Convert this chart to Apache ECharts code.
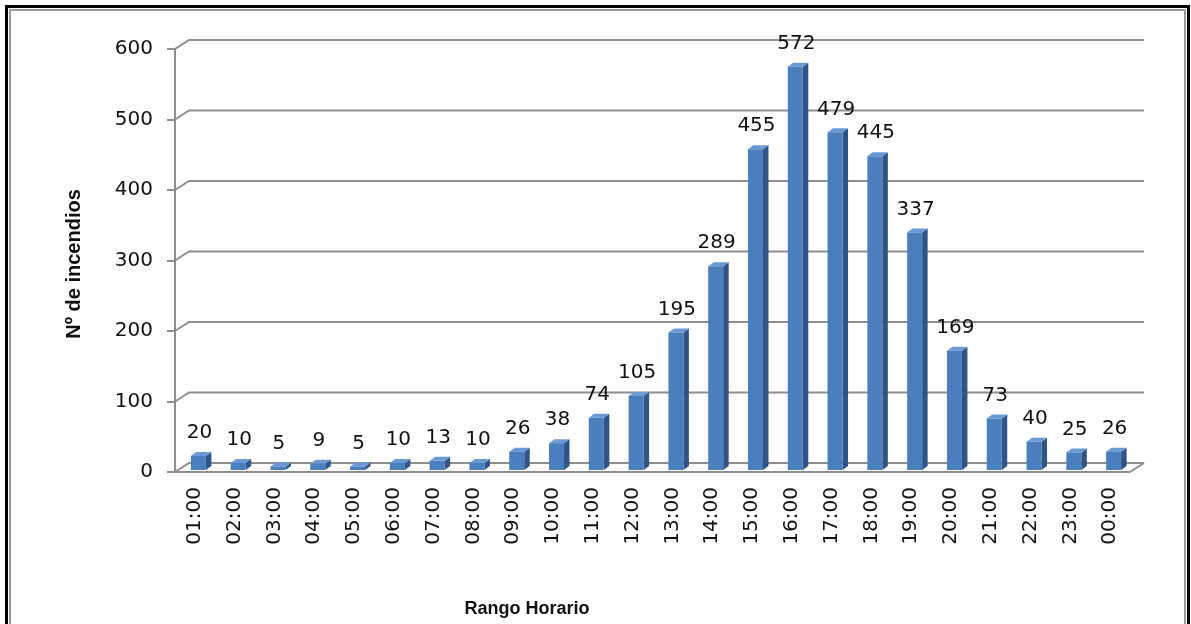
<!DOCTYPE html>
<html>
<head>
<meta charset="utf-8">
<script src="https://cdn.jsdelivr.net/npm/echarts@6/dist/echarts.min.js"></script>
<style>
  html, body { margin: 0; padding: 0; background: #fff; }
  #chart { width: 1191px; height: 624px; }
</style>
</head>
<body>
<div id="chart"></div>
<script>
// Fires per hourly range
const hours = ['01:00','02:00','03:00','04:00','05:00','06:00','07:00','08:00','09:00','10:00','11:00','12:00',
               '13:00','14:00','15:00','16:00','17:00','18:00','19:00','20:00','21:00','22:00','23:00','00:00'];
const fires = [20, 10, 5, 9, 5, 10, 13, 10, 26, 38, 74, 105, 195, 289, 455, 572, 479, 445, 337, 169, 73, 40, 25, 26];
const yTicks = [0, 100, 200, 300, 400, 500, 600];

const chart = echarts.init(document.getElementById('chart'));

const LINE = '#8e8e8e';
const WALL_DX = 14, WALL_DY = 9;   // back-wall offset of the oblique view
const LABEL_FONT = 'DejaVu Sans';

// Back-wall gridlines with their diagonal run to the front axis
function renderGrid(params, api) {
  const cs = params.coordSys;
  const v = api.value(1);
  const y = api.coord([0, v])[1];
  const left = cs.x, right = cs.x + cs.width;
  const children = [{
    type: 'polyline',
    shape: { points: [[left, y], [left + WALL_DX, y - WALL_DY], [right + WALL_DX, y - WALL_DY]] },
    style: { stroke: LINE, lineWidth: 2, fill: null }
  }];
  if (v === 0) {
    // floor front edge and right-hand side edge
    children.push({
      type: 'polyline',
      shape: { points: [[left, y], [right, y], [right + WALL_DX, y - WALL_DY]] },
      style: { stroke: LINE, lineWidth: 2, fill: null }
    });
  }
  return { type: 'group', children };
}

// Oblique 3D column: front face, darker side, lighter top, value label above
function renderBar(params, api) {
  const i = api.value(0), v = api.value(1);
  const base = api.coord([i, 0]);
  const top = api.coord([i, v]);
  const fw = 15, dx = 5.5, dy = 4, lift = 2;
  const x0 = base[0] - 4, x1 = x0 + fw;
  const yb = base[1] - lift, yt = top[1] - lift;
  return {
    type: 'group',
    children: [
      { type: 'polygon', shape: { points: [[x1, yb], [x1 + dx, yb - dy], [x1 + dx, yt - dy], [x1, yt]] },
        style: { fill: '#2f5587' } },
      { type: 'polygon', shape: { points: [[x0, yt], [x1, yt], [x1 + dx, yt - dy], [x0 + dx, yt - dy]] },
        style: { fill: '#6a9ad6' } },
      { type: 'rect', shape: { x: x0, y: yt, width: fw, height: yb - yt },
        style: { fill: '#4a7ebd' } },
      { type: 'text', x: x0 + fw / 2 + 1, y: yt - 13,
        style: { text: String(v), fontFamily: LABEL_FONT, fontSize: 20, fill: '#111',
                 align: 'center', verticalAlign: 'bottom' } }
    ]
  };
}

chart.setOption({
  animation: false,
  backgroundColor: '#fff',
  grid: { left: 175, right: 61, top: 49, bottom: 152, containLabel: false },
  xAxis: {
    type: 'category',
    data: hours,
    axisLine: { show: false },
    axisTick: { show: false },
    axisLabel: { rotate: 90, margin: 15, fontFamily: LABEL_FONT, fontSize: 20, color: '#111', interval: 0 }
  },
  yAxis: {
    type: 'value',
    min: 0, max: 600, interval: 100,
    axisLine: { show: true, lineStyle: { color: LINE, width: 2 } },
    axisTick: { show: true, length: 8, lineStyle: { color: LINE, width: 2 } },
    splitLine: { show: false },
    axisLabel: { margin: 22, fontFamily: LABEL_FONT, fontSize: 20, color: '#111' }
  },
  graphic: [
    { type: 'rect', shape: { x: 6.5, y: 6.5, width: 1182, height: 640 },
      style: { fill: null, stroke: '#000', lineWidth: 3 }, z: 10 },
    { type: 'rect', shape: { x: 10, y: 10, width: 1175, height: 640 },
      style: { fill: null, stroke: '#9a9a9a', lineWidth: 2 }, z: 10 },
    { type: 'text', x: 74, y: 264, rotation: Math.PI / 2,
      style: { text: 'Nº de incendios', fontFamily: 'Liberation Sans', fontWeight: 'bold', fontSize: 20,
               fill: '#111', align: 'center', verticalAlign: 'middle' } },
    { type: 'text', x: 527, y: 609,
      style: { text: 'Rango Horario', fontFamily: 'Liberation Sans', fontWeight: 'bold', fontSize: 18,
               fill: '#111', align: 'center', verticalAlign: 'middle' } }
  ],
  series: [
    {
      type: 'custom',
      renderItem: renderGrid,
      data: yTicks.map(t => [0, t]),
      encode: { x: 0, y: 1 },
      clip: false,
      silent: true,
      z: 1
    },
    {
      type: 'custom',
      renderItem: renderBar,
      data: fires.map((v, i) => [i, v]),
      encode: { x: 0, y: 1 },
      clip: false,
      z: 2
    }
  ]
});
</script>
</body>
</html>
